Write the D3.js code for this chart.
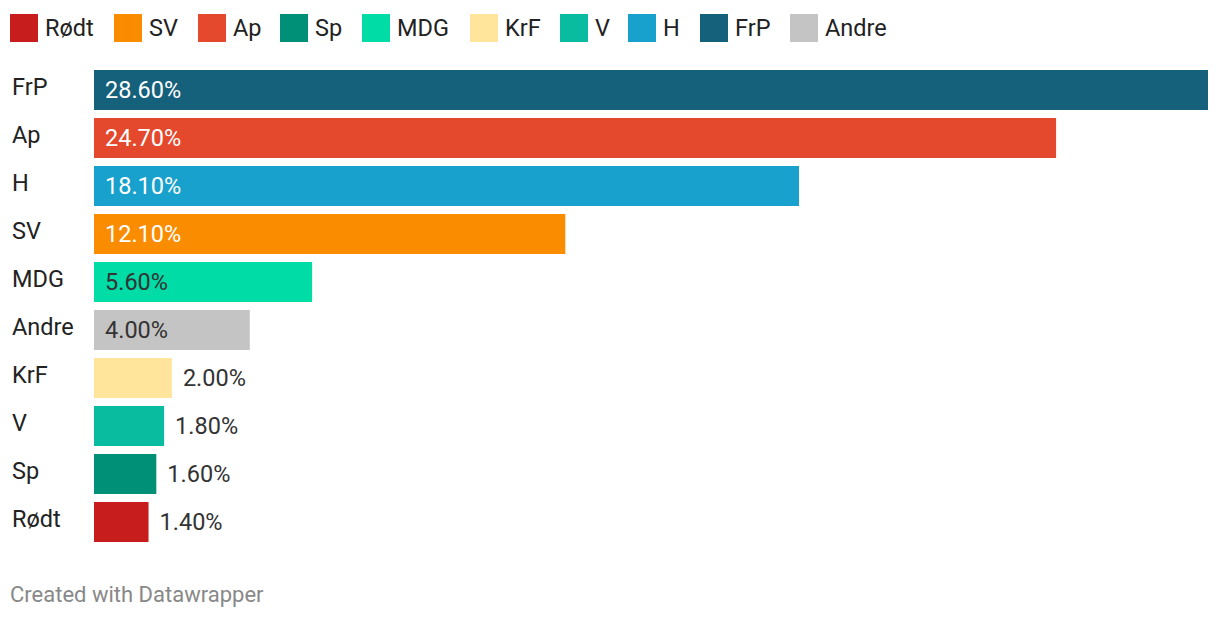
<!DOCTYPE html>
<html><head><meta charset="utf-8">
<script src="https://cdn.jsdelivr.net/npm/d3@7"></script>
<style>body{margin:0;background:#fff;font-family:Roboto,sans-serif;}</style>
</head><body><svg id="c" width="1220" height="618"></svg>
<script>
const legendParties = ["Rødt","SV","Ap","Sp","MDG","KrF","V","H","FrP","Andre"];
const legendColors = ["#c71e1d","#fa8c00","#e4482d","#008f77","#00dca6","#ffe59c","#09bb9f","#18a1cd","#15607a","#c4c4c4"];
const categories = ["FrP","Ap","H","SV","MDG","Andre","KrF","V","Sp","Rødt"];
const values = [28.6,24.7,18.1,12.1,5.6,4.0,2.0,1.8,1.6,1.4];
const insideLabel = [true,true,true,true,true,true,false,false,false,false];
const labelColors = ["#fff","#fff","#fff","#fff","#333","#333","#333","#333","#333","#333"];

const svg = d3.select("#c");
const color = d3.scaleOrdinal().domain(legendParties).range(legendColors);

// legend
const legX = [10,114,198,280,362,470,560,628,700,790];
const lg = svg.append("g");
legendParties.forEach((p,i)=>{
  lg.append("rect").attr("x",legX[i]).attr("y",14).attr("width",28).attr("height",28).attr("fill",color(p));
  lg.append("text").attr("x",legX[i]+35).attr("y",36).attr("font-size",23.5).attr("fill","#222").text(p);
});

const x = d3.scaleLinear().domain([0,28.6]).range([94,1208]);
const y = d3.scaleBand().domain(categories).range([66,546]).paddingInner(8/48).paddingOuter(4/48);

const g = svg.append("g");
categories.forEach((c,i)=>{
  const yy = y(c);
  g.append("rect").attr("x",x(0)).attr("y",yy).attr("width",x(values[i])-x(0)).attr("height",y.bandwidth()).attr("fill",color(c));
  g.append("text").attr("x",12).attr("y",yy+y.bandwidth()/2+5).attr("font-size",23.5).attr("fill","#222").text(c);
  const lx = insideLabel[i] ? x(0)+11 : x(values[i])+11;
  g.append("text").attr("x",lx).attr("y",yy+y.bandwidth()/2+8).attr("font-size",23.5).attr("fill",labelColors[i]).text(values[i].toFixed(2)+"%");
});

svg.append("text").attr("x",10).attr("y",602).attr("font-size",22).attr("fill","#888").text("Created with Datawrapper");
</script></body></html>
